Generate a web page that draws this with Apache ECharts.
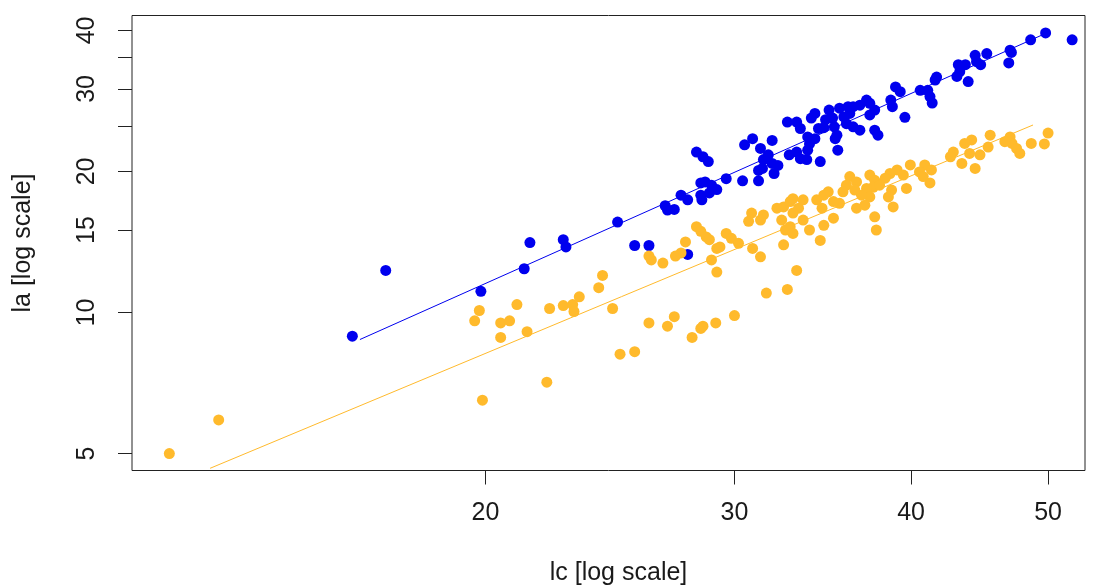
<!DOCTYPE html>
<html>
<head>
<meta charset="utf-8">
<script src="https://cdn.jsdelivr.net/npm/echarts@6/dist/echarts.min.js"></script>
<style>html,body{margin:0;padding:0;background:#fff;}#c{width:1096px;height:585px;}</style>
</head>
<body>
<div id="c"></div>
<script>
var blueLc = [16.1,17.0,19.85,21.3,21.5,22.7,22.8,24.8,25.5,26.1,27.8,26.8,26.9,27.2,27.5,27.8,28.4,28.45,28.4,28.6,28.9,29.15,28.8,29.6,30.4,31.2,28.2,28.5,28.75,30.5,30.9,31.3,31.9,31.45,31.7,31.9,32.2,32.0,31.4,31.2,32.8,33.2,33.4,33.75,33.8,34.5,32.7,33.2,33.4,34.0,34.2,33.8,34.2,34.4,35.0,35.2,35.3,35.45,35.5,49.8,52.0,48.6,47.0,47.1,46.9,44.4,45.25,44.5,44.8,43.2,43.7,43.3,43.1,43.9,41.7,41.6,40.6,41.1,41.25,41.4,39.0,39.3,38.7,38.8,39.6,37.2,37.4,36.8,36.4,36.1,37.7,37.4,35.6,36.2,35.85,34.8,36.4,36.8,36.0,37.7,37.9,35.35,33.9,34.7];
var blueLa = [8.9,12.3,11.1,12.4,14.1,14.3,13.8,15.6,13.9,13.9,13.3,16.9,16.55,16.6,17.8,17.4,17.8,17.4,18.9,19.0,18.7,18.3,18.0,19.3,19.1,19.1,22.0,21.5,21.0,22.8,23.5,22.4,23.3,21.2,21.7,20.8,20.6,19.8,20.3,20.1,21.7,22.0,21.3,21.2,22.2,21.0,25.5,25.5,24.7,26.0,26.6,23.7,23.5,24.7,27.05,26.0,24.9,23.9,22.2,39.5,38.2,38.2,36.3,35.9,34.1,35.4,35.7,34.3,33.8,33.8,33.8,32.65,31.9,31.1,31.8,31.35,29.8,29.8,28.9,28.0,30.3,29.6,28.4,27.5,26.1,28.4,27.96,27.7,27.5,27.5,27.05,26.4,27.3,26.6,26.15,25.8,24.9,24.5,25.3,24.5,23.9,23.5,22.9,24.8];
var orangeLc = [11.95,12.95,19.9,22.1,24.9,20.5,21.4,19.8,19.65,20.5,20.8,21.05,22.2,22.7,23.05,23.1,23.3,24.05,24.2,24.6,25.5,26.1,26.9,27.2,28.0,28.4,28.5,29.1,30.0,31.6,32.7,33.2,26.1,26.2,26.7,27.25,27.5,27.7,28.2,28.4,28.65,28.8,28.9,29.15,29.3,29.15,29.6,29.85,30.2,30.9,31.3,30.7,30.85,31.45,31.3,32.15,32.5,32.85,33.0,32.4,32.6,32.85,33.0,32.5,39.95,40.9,41.35,41.25,39.1,39.5,38.65,38.35,39.7,38.75,38.55,38.85,37.4,37.7,37.6,38.0,37.2,37.4,36.9,36.2,36.6,36.0,36.5,35.8,36.6,37.1,37.7,37.8,35.6,35.25,34.95,34.7,34.3,34.6,35.25,34.7,33.9,34.5,33.55,33.3,33.0,33.55,50.0,49.7,48.65,47.0,47.15,47.5,47.75,46.6,45.5,45.35,44.75,44.15,43.65,44.0,42.85,42.65,43.45,44.4,40.55,40.8];
var orangeLa = [5.0,5.9,6.5,7.1,8.15,8.85,9.1,10.1,9.6,9.5,9.6,10.4,10.2,10.35,10.4,10.05,10.8,11.3,12.0,10.2,8.25,9.5,9.35,9.8,8.85,9.25,9.35,9.5,9.85,11.0,11.2,12.3,13.2,12.95,12.75,13.2,13.4,14.15,15.25,14.9,14.5,14.3,12.95,13.7,13.8,12.2,14.75,14.4,14.05,13.7,13.15,15.65,16.3,16.15,15.75,16.7,16.8,17.25,17.5,15.75,15.0,15.25,14.75,13.95,20.65,20.65,20.15,18.9,20.15,19.65,19.8,19.35,18.4,18.25,17.65,16.8,19.65,19.15,18.5,18.7,18.4,17.65,17.8,19.5,19.0,18.7,18.25,18.1,16.7,16.95,16.0,15.0,17.1,17.25,18.1,17.8,17.4,16.7,15.9,15.35,15.0,14.25,17.4,16.7,16.3,15.75,24.15,22.9,22.95,23.7,22.95,22.4,21.85,23.15,23.9,22.55,21.7,23.35,22.95,21.85,22.0,21.5,20.8,20.3,19.95,19.5];
var blueFitLc = [16.3, 49.5];
var blueFitLa = [8.757, 39.09];
var orangeFitLc = [12.77, 48.79];
var orangeFitLa = [4.651, 25.13];
var xTicks = [20, 30, 40, 50];
var yTicks = [5, 10, 15, 20, 25, 30, 35, 40];
var yLabels = [5, 10, 15, 20, 30, 40];

function pairs(a, b) { return a.map(function (v, i) { return [v, b[i]]; }); }

var BLUE = '#0000EE', ORANGE = '#FFBA2C';
var FONT = "'Liberation Sans', Arial, sans-serif";
var chart = echarts.init(document.getElementById('c'), null, {renderer: 'canvas'});
chart.setOption({
  animation: false,
  backgroundColor: '#fff',
  grid: {left: 132, right: 11, top: 15.5, bottom: 114.5, containLabel: false, outerBoundsMode: 'none', show: true, borderColor: '#222', borderWidth: 1, backgroundColor: 'transparent'},
  xAxis: {
    type: 'log', logBase: 10, min: 11.245, max: 53.1,
    name: 'lc [log scale]', nameLocation: 'middle', nameGap: 90,
    nameTextStyle: {fontFamily: FONT, fontSize: 25, color: '#1a1a1a', padding: [0, 0, 0, 20]},
    axisLine: {show: false},
    splitLine: {show: false},
    axisTick: {show: true, length: 14, inside: false, customValues: xTicks, lineStyle: {color: '#222', width: 1}},
    axisLabel: {show: true, customValues: xTicks, margin: 30, fontFamily: FONT, fontSize: 25, color: '#1a1a1a'}
  },
  yAxis: {
    type: 'log', logBase: 10, min: 4.601, max: 43.04,
    name: 'la [log scale]', nameLocation: 'middle', nameGap: 96, nameRotate: 90,
    nameTextStyle: {fontFamily: FONT, fontSize: 25, color: '#1a1a1a'},
    axisLine: {show: false},
    splitLine: {show: false},
    axisTick: {show: true, length: 14, inside: false, customValues: yTicks, lineStyle: {color: '#222', width: 1}},
    axisLabel: {show: true, customValues: yLabels, rotate: 90, margin: 32, fontFamily: FONT, fontSize: 25, color: '#1a1a1a'}
  },
  series: [
    {type: 'scatter', data: pairs(blueLc, blueLa), symbol: 'circle', symbolSize: 11, itemStyle: {color: BLUE, opacity: 1}},
    {type: 'scatter', data: pairs(orangeLc, orangeLa), symbol: 'circle', symbolSize: 11, itemStyle: {color: ORANGE, opacity: 1}},
    {type: 'line', data: pairs(blueFitLc, blueFitLa), showSymbol: false, symbol: 'none', lineStyle: {color: BLUE, width: 1}},
    {type: 'line', data: pairs(orangeFitLc, orangeFitLa), showSymbol: false, symbol: 'none', lineStyle: {color: ORANGE, width: 1}}
  ]
});
</script>
</body>
</html>
